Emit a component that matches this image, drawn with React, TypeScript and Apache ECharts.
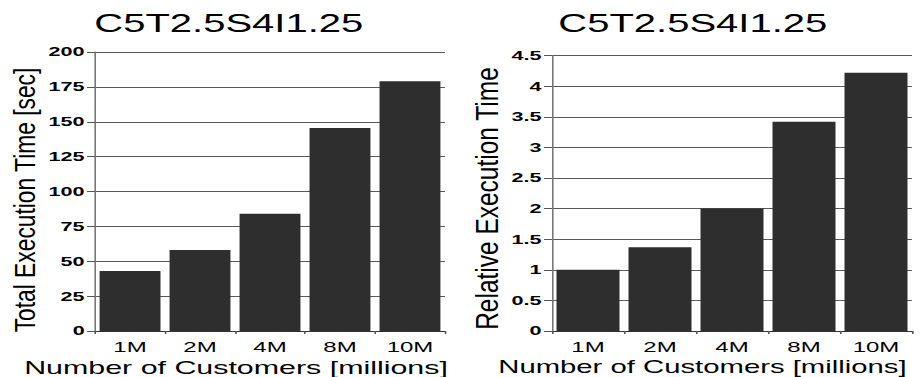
import React, { useEffect, useRef } from "react";
import * as echarts from "echarts";

const categories = ["1M", "2M", "4M", "8M", "10M"];
const totalTime = [43, 58, 84, 145.5, 179];
const relativeTime = [1.0, 1.37, 2.0, 3.42, 4.22];
const chartTitle = "C5T2.5S4I1.25";
const xName = "Number of Customers [millions]";
const leftYName = "Total Execution Time [sec]";
const rightYName = "Relative Execution Time";

const STRETCH = 1.6;
const FONT = "'Liberation Sans', Arial, Helvetica, sans-serif";
const BAR = "#2e2e2e";

export default function App() {
  const ref = useRef<HTMLDivElement>(null);
  useEffect(() => {
    if (!ref.current) return;
    const chart = echarts.init(ref.current, null, { renderer: "svg" });
    const yCommon = (gi: number) => ({
      type: "value",
      gridIndex: gi,
      min: 0,
      axisLine: { show: true, lineStyle: { color: "#777", width: 1 } },
      axisTick: { show: true, length: 5, lineStyle: { color: "#555" } },
      axisLabel: { color: "#000", fontSize: 13.5, fontWeight: "bold", fontFamily: FONT, margin: 6.5 },
      splitLine: { show: true, lineStyle: { color: "#5a5a5a", width: 1 } },
    });
    const xCommon = (gi: number) => ({
      type: "category",
      gridIndex: gi,
      data: categories,
      axisLine: { show: true, lineStyle: { color: "#333", width: 1 } },
      axisTick: { show: true, length: 3, lineStyle: { color: "#555" } },
      axisLabel: { color: "#000", fontSize: 15, fontFamily: FONT, margin: 8 },
    });
    const textStyle = (text: string, size: number) => ({
      text,
      font: `${size}px ${FONT}`,
      fill: "#000",
      textAlign: "center",
      textVerticalAlign: "middle",
    });
    chart.setOption({
      animation: false,
      backgroundColor: "#fff",
      grid: [
        { left: 59.4, top: 52, width: 218.7, height: 279 },
        { left: 345, top: 55.6, width: 225, height: 275.4 },
      ],
      xAxis: [xCommon(0), xCommon(1)],
      yAxis: [
        { ...yCommon(0), max: 200, interval: 25 },
        { ...yCommon(1), max: 4.5, interval: 0.5 },
      ],
      series: [
        {
          type: "bar",
          xAxisIndex: 0,
          yAxisIndex: 0,
          data: totalTime,
          barCategoryGap: "13%",
          itemStyle: { color: BAR },
        },
        {
          type: "bar",
          xAxisIndex: 1,
          yAxisIndex: 1,
          data: relativeTime,
          barCategoryGap: "12.5%",
          itemStyle: { color: BAR },
        },
      ],
      graphic: [
        { type: "text", x: 143, y: 23, style: textStyle(chartTitle, 25) },
        { type: "text", x: 433, y: 23, style: textStyle(chartTitle, 25) },
        { type: "text", x: 147.5, y: 367, style: textStyle(xName, 19) },
        { type: "text", x: 439, y: 367, style: textStyle(xName, 18.3) },
        {
          type: "text",
          x: 15.8,
          y: 200,
          rotation: Math.PI / 2,
          scaleY: 0.82,
          style: textStyle(leftYName, 22.8),
        },
        {
          type: "text",
          x: 304.5,
          y: 198.5,
          rotation: Math.PI / 2,
          scaleY: 0.82,
          style: textStyle(rightYName, 24.5),
        },
      ],
    });
    return () => chart.dispose();
  }, []);
  return (
    <div
      style={{
        position: "fixed",
        left: 0,
        top: 0,
        width: 576,
        height: 377,
        transform: `scaleX(${STRETCH})`,
        transformOrigin: "0 0",
        background: "#fff",
      }}
    >
      <div ref={ref} style={{ width: 576, height: 377 }} />
    </div>
  );
}
